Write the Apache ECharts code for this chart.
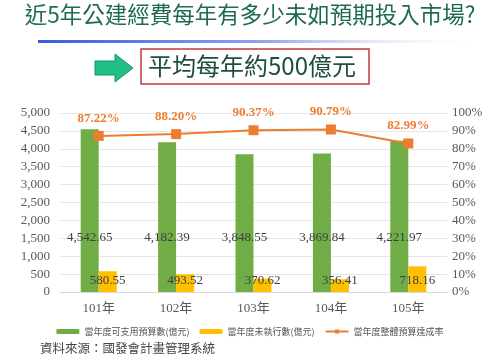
<!DOCTYPE html>
<html><head><meta charset="utf-8">
<script src="https://cdn.jsdelivr.net/npm/echarts@6/dist/echarts.min.js"></script>
<style>html,body{margin:0;padding:0;background:#fff}#c{width:500px;height:361px}</style>
</head><body><div id="c"></div>
<script>
const categories = ['101年','102年','103年','104年','105年'];
const budgetValues = [4542.65, 4182.39, 3848.55, 3869.84, 4221.97];
const unexecutedValues = [580.55, 493.52, 370.62, 356.41, 718.16];
const rateValues = [87.22, 88.20, 90.37, 90.79, 82.99];
const seriesNames = ['當年度可支用預算數(億元)','當年度未執行數(億元)','當年度整體預算達成率'];
const titleText = '近5年公建經費每年有多少未如預期投入市場?';
const subText = '平均每年約500億元';
const sourceText = '資料來源：國發會計畫管理系統';

const serif = '"Liberation Serif","DejaVu Serif",serif';
const cjk = '"Noto Sans CJK TC","Noto Sans CJK SC",sans-serif';
const chart = echarts.init(document.getElementById('c'));
chart.setOption({
  animation:false,
  backgroundColor:'#fff',
  grid:{left:60,right:53,top:113,bottom:69},
  legend:{
    data:seriesNames, bottom:20, left:'center',
    itemWidth:23, itemHeight:5, itemGap:10,
    textStyle:{fontFamily:cjk, fontSize:9, color:'#555'}
  },
  xAxis:{
    type:'category', data:categories,
    axisLine:{show:true,lineStyle:{color:'#d9d9d9'}}, axisTick:{show:false},
    axisLabel:{fontFamily:serif+','+cjk, fontSize:13, color:'#595959', margin:10}
  },
  yAxis:[
    {type:'value', min:0, max:5000, interval:500,
     axisLine:{show:false}, axisTick:{show:false},
     splitLine:{lineStyle:{color:'#e6e6e6'}},
     axisLabel:{fontFamily:serif, fontSize:13, color:'#595959', margin:10,
       formatter:v=>v.toLocaleString('en-US')}},
    {type:'value', min:0, max:100, interval:10,
     axisLine:{show:false}, axisTick:{show:false}, splitLine:{show:false},
     axisLabel:{fontFamily:serif, fontSize:13, color:'#595959', margin:5,
       formatter:v=>v+'%'}}
  ],
  series:[
    {name:seriesNames[0], type:'bar', data:budgetValues, barWidth:18, barGap:'0%',
     itemStyle:{color:'#70ad47'},
     label:{show:true, position:'insideBottom', distance:48, fontFamily:serif, fontSize:13, color:'#404040',
       formatter:p=>p.value.toLocaleString('en-US',{minimumFractionDigits:2,maximumFractionDigits:2})}},
    {name:seriesNames[1], type:'bar', data:unexecutedValues, barWidth:18,
     itemStyle:{color:'#ffc000'},
     label:{show:true, position:'insideBottom', distance:5, fontFamily:serif, fontSize:13, color:'#404040',
       formatter:p=>p.value.toFixed(2)}},
    {name:seriesNames[2], type:'line', yAxisIndex:1, data:rateValues,
     symbol:'rect', symbolSize:10,
     lineStyle:{color:'#ed7d31', width:2}, itemStyle:{color:'#ed7d31'},
     label:{show:true, position:'top', distance:6, fontFamily:serif, fontSize:13, color:'#ed7d31', fontWeight:'bold',
       formatter:p=>p.value.toFixed(2)+'%'}}
  ],
  graphic:[
    {type:'text', left:'center', top:3, style:{text:titleText, font:'normal 22.5px '+cjk, fill:'#1f6b50'}},
    {type:'rect', shape:{x:38,y:40,width:450,height:3},
     style:{fill:new echarts.graphic.LinearGradient(0,0,1,0,[{offset:0,color:'#3b5bdb'},{offset:0.5,color:'#8fa3ee'},{offset:1,color:'rgba(255,255,255,0)'}])}},
    {type:'polygon', shape:{points:[[95,61],[115,61],[115,54],[133,68],[115,82],[115,75],[95,75]]},
     style:{fill:'#1fbf86', stroke:'#16946a', lineWidth:1}},
    {type:'rect', shape:{x:141,y:49,width:228,height:35}, style:{fill:'#fff', stroke:'#c0393b', lineWidth:1.5}},
    {type:'text', x:148, y:54, style:{text:subText, font:'normal 24px '+cjk, fill:'#1f4f3a'}},
    {type:'text', x:40, y:342, style:{text:sourceText, font:'normal 12.5px '+cjk, fill:'#444'}}
  ]
});
</script></body></html>
